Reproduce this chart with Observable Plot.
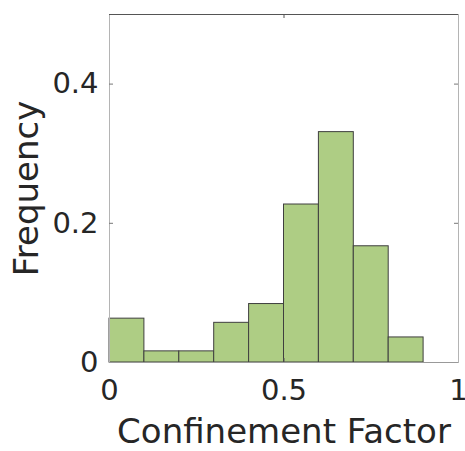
<!DOCTYPE html>
<html><head><meta charset="utf-8">
<script src="https://cdn.jsdelivr.net/npm/d3@7"></script>
<script src="https://cdn.jsdelivr.net/npm/@observablehq/plot@0.6"></script>
<style>
body{margin:0;background:#fff;}
</style></head>
<body><div id="chart"></div>
<script>
const binStart = [0, 0.1, 0.2, 0.3, 0.4, 0.5, 0.6, 0.7, 0.8, 0.9];
const binEnd   = [0.1, 0.2, 0.3, 0.4, 0.5, 0.6, 0.7, 0.8, 0.9, 1.0];
const frequency = [0.063, 0.016, 0.016, 0.057, 0.084, 0.227, 0.331, 0.167, 0.036, 0];
const xTicks = [0, 0.5, 1];
const xTickLabels = ["0", "0.5", "1"];
const yTicks = [0, 0.2, 0.4];
const yTickLabels = ["0", "0.2", "0.4"];
const xLabel = "Confinement Factor";
const yLabel = "Frequency";

const bars = binStart.map((s, i) => ({x1: s, x2: binEnd[i], y: frequency[i]})).filter(d => d.y > 0);

const chart = Plot.plot({
  width: 465, height: 451,
  marginLeft: 109, marginRight: 7, marginTop: 14, marginBottom: 89,
  style: {fontFamily: "DejaVu Sans", color: "#262626", background: "#fff"},
  x: {domain: [0, 1]},
  y: {domain: [0, 0.5]},
  marks: [
    Plot.rectY(bars, {x1: "x1", x2: "x2", y: "y", fill: "#aecd84", stroke: "#3f3f3f", strokeWidth: 1}),
    Plot.frame({stroke: "#b4b4b4"}),
    Plot.ruleY([0.5], {stroke: "#555"}),
    Plot.ruleY([0], {stroke: "#999"}),
    // inward ticks
    Plot.ruleX(xTicks.slice(1, -1), {stroke: "#555", insetTop: 344}),
    Plot.ruleX(xTicks.slice(1, -1), {stroke: "#555", insetBottom: 344}),
    Plot.tickY(yTicks.slice(1), {stroke: "#777", insetRight: 345}),
    Plot.tickY(yTicks.slice(1), {stroke: "#777", insetLeft: 345}),
    Plot.axisX(xTicks, {tickSize: 0, tickPadding: 17, fontSize: 29, tickFormat: (d, i) => xTickLabels[i], label: null}),
    Plot.axisY(yTicks, {tickSize: 0, tickPadding: 11, fontSize: 29, tickFormat: (d, i) => yTickLabels[i], label: null}),
    Plot.text([xLabel], {frameAnchor: "bottom", dy: 80, fontSize: 34, fill: "#262626", lineAnchor: "bottom"}),
    Plot.text([yLabel], {frameAnchor: "left", textAnchor: "middle", dx: -82, rotate: -90, fontSize: 34, fill: "#262626"})
  ]
});
document.getElementById("chart").appendChild(chart);
</script>
</body></html>
